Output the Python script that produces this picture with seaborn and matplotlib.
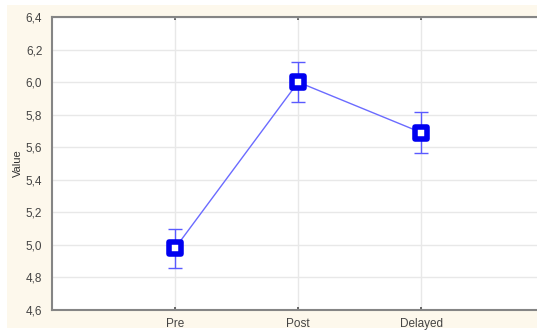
import matplotlib
matplotlib.use("Agg")
import matplotlib.pyplot as plt
import matplotlib.patches as mpatches
from matplotlib.markers import MarkerStyle
from matplotlib.ticker import FuncFormatter
import seaborn as sns
import pandas as pd

phases = ["Pre", "Post", "Delayed"]
means = [4.98, 6.00, 5.69]
errors = [0.12, 0.125, 0.125]
y_ticks = [4.6, 4.8, 5.0, 5.2, 5.4, 5.6, 5.8, 6.0, 6.2, 6.4]

sns.set_theme(style="white")
plt.rcParams["font.family"] = ["Liberation Sans", "DejaVu Sans"]

fig = plt.figure(figsize=(5.37, 3.31), dpi=100, facecolor="white")
# cream panel behind the plot
panel = mpatches.Rectangle((7 / 537, 1 - 328 / 331), 530 / 537, 323 / 331,
                           transform=fig.transFigure, facecolor="#fdf8ec",
                           edgecolor="none", zorder=-10)
fig.add_artist(panel)
ax = fig.add_axes([52 / 537, 1 - 310 / 331, (537 - 52) / 537, (310 - 17) / 331])
ax.set_facecolor("white")

df = pd.DataFrame({"Phase": phases, "Value": means})
sns.lineplot(data=df, x="Phase", y="Value", sort=False, ax=ax, color="#6b6bff",
             linewidth=1.0, zorder=3)
ax.errorbar(range(len(phases)), means, yerr=errors, fmt="none", ecolor="#5a5aff",
            elinewidth=1.0, capsize=5, capthick=1.0, zorder=4)
ax.plot(range(len(phases)), means, linestyle="none",
        marker=MarkerStyle("s", joinstyle="round"), markersize=8.5,
        markerfacecolor="white", markeredgecolor="#0000f0", markeredgewidth=4,
        zorder=5)

ax.set_xlim(-1, 2.94)
ax.set_ylim(4.6, 6.4)
ax.set_xticks(range(len(phases)))
ax.set_xticklabels(phases)
ax.set_yticks(y_ticks)
ax.yaxis.set_major_formatter(FuncFormatter(lambda v, p: f"{v:.1f}".replace(".", ",")))
ax.grid(True, color="#e8e8e8", linewidth=1.0)
ax.set_axisbelow(True)
ax.set_xlabel("")
ax.set_ylabel("Value", fontsize=8, color="#333333")
ax.yaxis.set_label_coords(-29 / 485, 0.5)
ax.tick_params(axis="both", labelsize=8.5, labelcolor="#444444", length=2,
               color="#555555", direction="out", pad=5)
ax.tick_params(axis="x", top=True, bottom=True, direction="in", length=2, pad=6)
for side in ["left", "bottom", "top"]:
    ax.spines[side].set_color("#858585")
    ax.spines[side].set_linewidth(1.5)
ax.spines["right"].set_visible(False)

fig.savefig("out.png", dpi=100, facecolor=fig.get_facecolor())
